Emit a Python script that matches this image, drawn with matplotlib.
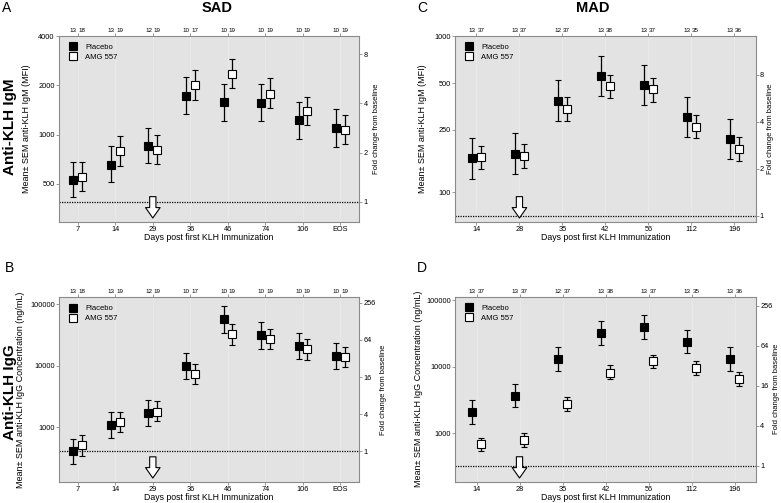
import matplotlib
matplotlib.use("Agg")
import matplotlib.pyplot as plt
from matplotlib.ticker import FixedLocator, FixedFormatter, NullLocator
import numpy as np

plt.rcParams['font.family'] = ['Liberation Sans', 'DejaVu Sans']

# --- SAD cohort (panels A, B) ---
sad_days = ['7', '14', '29', '36', '46', '74', '106', 'EOS']
sad_n_pbo = [13, 13, 12, 10, 10, 10, 10, 10]
sad_n_amg = [18, 19, 19, 17, 19, 19, 19, 19]

igm_sad_pbo = [530, 656, 857, 1730, 1574, 1559, 1229, 1097]
igm_sad_pbo_hi = [677, 848, 1102, 2261, 2045, 2027, 1580, 1427]
igm_sad_pbo_lo = [415, 516, 669, 1343, 1210, 1205, 940, 840]
igm_sad_amg = [551, 795, 809, 2008, 2358, 1778, 1393, 1067]
igm_sad_amg_hi = [677, 978, 995, 2474, 2881, 2206, 1706, 1312]
igm_sad_amg_lo = [450, 646, 661, 1622, 1923, 1447, 1140, 876]
igm_sad_base = 388

igg_sad_pbo = [415, 1107, 1691, 9890, 56500, 31040, 21120, 14200]
igg_sad_pbo_hi = [649, 1755, 2749, 16260, 92900, 50470, 34240, 23340]
igg_sad_pbo_lo = [258, 682, 1066, 6015, 33900, 18870, 12850, 8730]
igg_sad_amg = [513, 1225, 1799, 7420, 32280, 27100, 18420, 13840]
igg_sad_amg_hi = [745, 1799, 2649, 10670, 47420, 39800, 26750, 19880]
igg_sad_amg_lo = [344, 843, 1255, 4990, 21670, 18400, 12380, 9420]
igg_sad_base = 410

# --- MAD cohort (panels C, D) ---
mad_days = ['14', '28', '35', '42', '56', '112', '196']
mad_n_pbo = [13, 13, 12, 13, 13, 13, 13]
mad_n_amg = [37, 37, 37, 38, 37, 35, 36]

igm_mad_pbo = [165, 176, 385, 552, 486, 301, 219]
igm_mad_pbo_hi = [221, 238, 520, 741, 655, 407, 294]
igm_mad_pbo_lo = [122, 131, 285, 413, 361, 225, 163]
igm_mad_amg = [167, 170, 341, 478, 455, 263, 190]
igm_mad_amg_hi = [198, 202, 409, 565, 541, 312, 225]
igm_mad_amg_lo = [141, 143, 287, 403, 380, 221, 159]
igm_mad_base = 70.5

igg_mad_pbo = [2117, 3680, 13030, 32360, 39380, 23990, 13030]
igg_mad_pbo_hi = [3170, 5570, 19950, 48950, 59600, 36300, 19730]
igg_mad_pbo_lo = [1400, 2460, 8620, 21140, 26000, 16030, 8530]
igg_mad_amg = [687, 796, 2760, 8130, 12170, 9560, 6470]
igg_mad_amg_hi = [863, 1002, 3510, 10490, 15130, 12030, 8220]
igg_mad_amg_lo = [545, 625, 2170, 6470, 9560, 7590, 5140]
igg_mad_base = 324

BG = '#e3e3e3'
SPINE = '#8a8a8a'


def draw_panel(ax, days, n_pbo, n_amg, pbo, pbo_hi, pbo_lo, amg, amg_hi, amg_lo,
               base, ylim, lticks, rticks, ylabel, arrow_idx, off, ylab_x, rlab_x):
    x = np.arange(len(days))
    pbo, pbo_hi, pbo_lo = map(np.array, (pbo, pbo_hi, pbo_lo))
    amg, amg_hi, amg_lo = map(np.array, (amg, amg_hi, amg_lo))

    ax.set_facecolor(BG)
    ax.set_yscale('log')
    ax.set_ylim(*ylim)
    ax.set_xlim(-0.5, len(days) - 0.5)

    for xc in x:
        ax.axvline(xc, color='#ececec', lw=0.5, zorder=0)

    ax.axhline(base, color='black', ls=(0, (1, 1)), lw=0.9, zorder=1)

    ax.errorbar(x - off, pbo, yerr=[pbo - pbo_lo, pbo_hi - pbo], fmt='s',
                ms=5.6, mfc='black', mec='black', mew=0.8, ecolor='black',
                elinewidth=0.9, capsize=2.0, capthick=0.9, label='Placebo', zorder=3)
    ax.errorbar(x + off, amg, yerr=[amg - amg_lo, amg_hi - amg], fmt='s',
                ms=5.6, mfc='white', mec='black', mew=0.8, ecolor='black',
                elinewidth=0.9, capsize=2.0, capthick=0.9, label='AMG 557', zorder=3)

    # left axis ticks
    ax.yaxis.set_major_locator(FixedLocator(lticks))
    ax.yaxis.set_major_formatter(FixedFormatter([str(t) for t in lticks]))
    ax.yaxis.set_minor_locator(NullLocator())
    ax.set_xticks(x)
    ax.set_xticklabels(days)
    ax.tick_params(axis='both', labelsize=5.3, length=2.0, width=0.6,
                   color=SPINE, pad=1.0, top=True)
    for s in ax.spines.values():
        s.set_color(SPINE)
        s.set_linewidth(0.8)

    ax.set_xlabel('Days post first KLH Immunization', fontsize=6.3)
    ax.xaxis.set_label_coords(0.5, -0.062)
    ax.set_ylabel(ylabel, fontsize=6.5)
    ax.yaxis.set_label_coords(ylab_x, 0.5)

    # counts along the top
    for i in range(len(days)):
        ax.text(x[i] - off, 1.03, str(n_pbo[i]), transform=ax.get_xaxis_transform(),
                ha='center', va='center', fontsize=4.5)
        ax.text(x[i] + off, 1.03, str(n_amg[i]), transform=ax.get_xaxis_transform(),
                ha='center', va='center', fontsize=4.5)

    # dosing arrow
    ax.annotate('', xy=(arrow_idx, 0.02), xytext=(arrow_idx, 0.135),
                xycoords=('data', 'axes fraction'), textcoords=('data', 'axes fraction'),
                arrowprops=dict(arrowstyle='simple,head_length=0.75,head_width=1.05,tail_width=0.45',
                                fc='white', ec='black', lw=0.8, shrinkA=0, shrinkB=0),
                zorder=4)

    ax.legend(loc='upper left', frameon=False, fontsize=5.5, handletextpad=1.0,
              labelspacing=0.35, borderaxespad=0.6, handlelength=1.0,
              bbox_to_anchor=(0.01, 1.0))

    # right axis: fold change from baseline
    ax2 = ax.twinx()
    ax2.set_yscale('log')
    ax2.set_ylim(ylim[0] / base, ylim[1] / base)
    ax2.yaxis.set_major_locator(FixedLocator(rticks))
    ax2.yaxis.set_major_formatter(FixedFormatter([str(t) for t in rticks]))
    ax2.yaxis.set_minor_locator(NullLocator())
    ax2.tick_params(axis='y', labelsize=5.3, length=2.0, width=0.6, color=SPINE, pad=1.0)
    for s in ax2.spines.values():
        s.set_visible(False)
    ax2.set_ylabel('Fold change from baseline', fontsize=5.5)
    ax2.yaxis.set_label_coords(rlab_x, 0.5)
    return ax2


fig = plt.figure(figsize=(7.81, 5.03), dpi=100)
axA = fig.add_axes([0.0755, 0.5592, 0.3845, 0.3692])
axC = fig.add_axes([0.5826, 0.5592, 0.3850, 0.3692])
axB = fig.add_axes([0.0755, 0.0423, 0.3845, 0.3666])
axD = fig.add_axes([0.5826, 0.0423, 0.3854, 0.3678])

draw_panel(axA, sad_days, sad_n_pbo, sad_n_amg, igm_sad_pbo, igm_sad_pbo_hi, igm_sad_pbo_lo,
           igm_sad_amg, igm_sad_amg_hi, igm_sad_amg_lo, igm_sad_base, (294, 4000),
           [500, 1000, 2000, 4000], [1, 2, 4, 8], 'Mean\u00b1 SEM anti-KLH IgM (MFI)', 2, 0.115,
           -0.093, 1.045)
draw_panel(axB, sad_days, sad_n_pbo, sad_n_amg, igg_sad_pbo, igg_sad_pbo_hi, igg_sad_pbo_lo,
           igg_sad_amg, igg_sad_amg_hi, igg_sad_amg_lo, igg_sad_base, (132, 128400),
           [1000, 10000, 100000], [1, 4, 16, 64, 256],
           'Mean\u00b1 SEM anti-KLH IgG Concentration (ng/mL)', 2, 0.115, -0.113, 1.069)
draw_panel(axC, mad_days, mad_n_pbo, mad_n_amg, igm_mad_pbo, igm_mad_pbo_hi, igm_mad_pbo_lo,
           igm_mad_amg, igm_mad_amg_hi, igm_mad_amg_lo, igm_mad_base, (64.6, 1000),
           [100, 250, 500, 1000], [1, 2, 4, 8], 'Mean\u00b1 SEM anti-KLH IgM (MFI)', 1, 0.1,
           -0.094, 1.037)
draw_panel(axD, mad_days, mad_n_pbo, mad_n_amg, igg_mad_pbo, igg_mad_pbo_hi, igg_mad_pbo_lo,
           igg_mad_amg, igg_mad_amg_hi, igg_mad_amg_lo, igg_mad_base, (188, 113000),
           [1000, 10000, 100000], [1, 4, 16, 64, 256],
           'Mean\u00b1 SEM anti-KLH IgG Concentration (ng/mL)', 1, 0.1, -0.105, 1.058)

# panel letters, cohort titles and row labels
W, H = 781, 503
def fx(px):
    return px / W
def fy(py):
    return 1 - py / H

fig.text(fx(2), fy(8), 'A', fontsize=10, va='center', ha='left')
fig.text(fx(417), fy(8), 'C', fontsize=10, va='center', ha='left')
fig.text(fx(5), fy(268), 'B', fontsize=10, va='center', ha='left')
fig.text(fx(417), fy(268), 'D', fontsize=10, va='center', ha='left')
fig.text(fx(217), fy(8.5), 'SAD', fontsize=10.5, fontweight='bold', ha='center', va='center')
fig.text(fx(593), fy(8.5), 'MAD', fontsize=10.5, fontweight='bold', ha='center', va='center')
fig.text(fx(10), fy(127), 'Anti-KLH IgM', fontsize=11, fontweight='bold', rotation=90,
         ha='center', va='center')
fig.text(fx(10), fy(392), 'Anti-KLH IgG', fontsize=11, fontweight='bold', rotation=90,
         ha='center', va='center')

fig.savefig('out.png', dpi=100)
